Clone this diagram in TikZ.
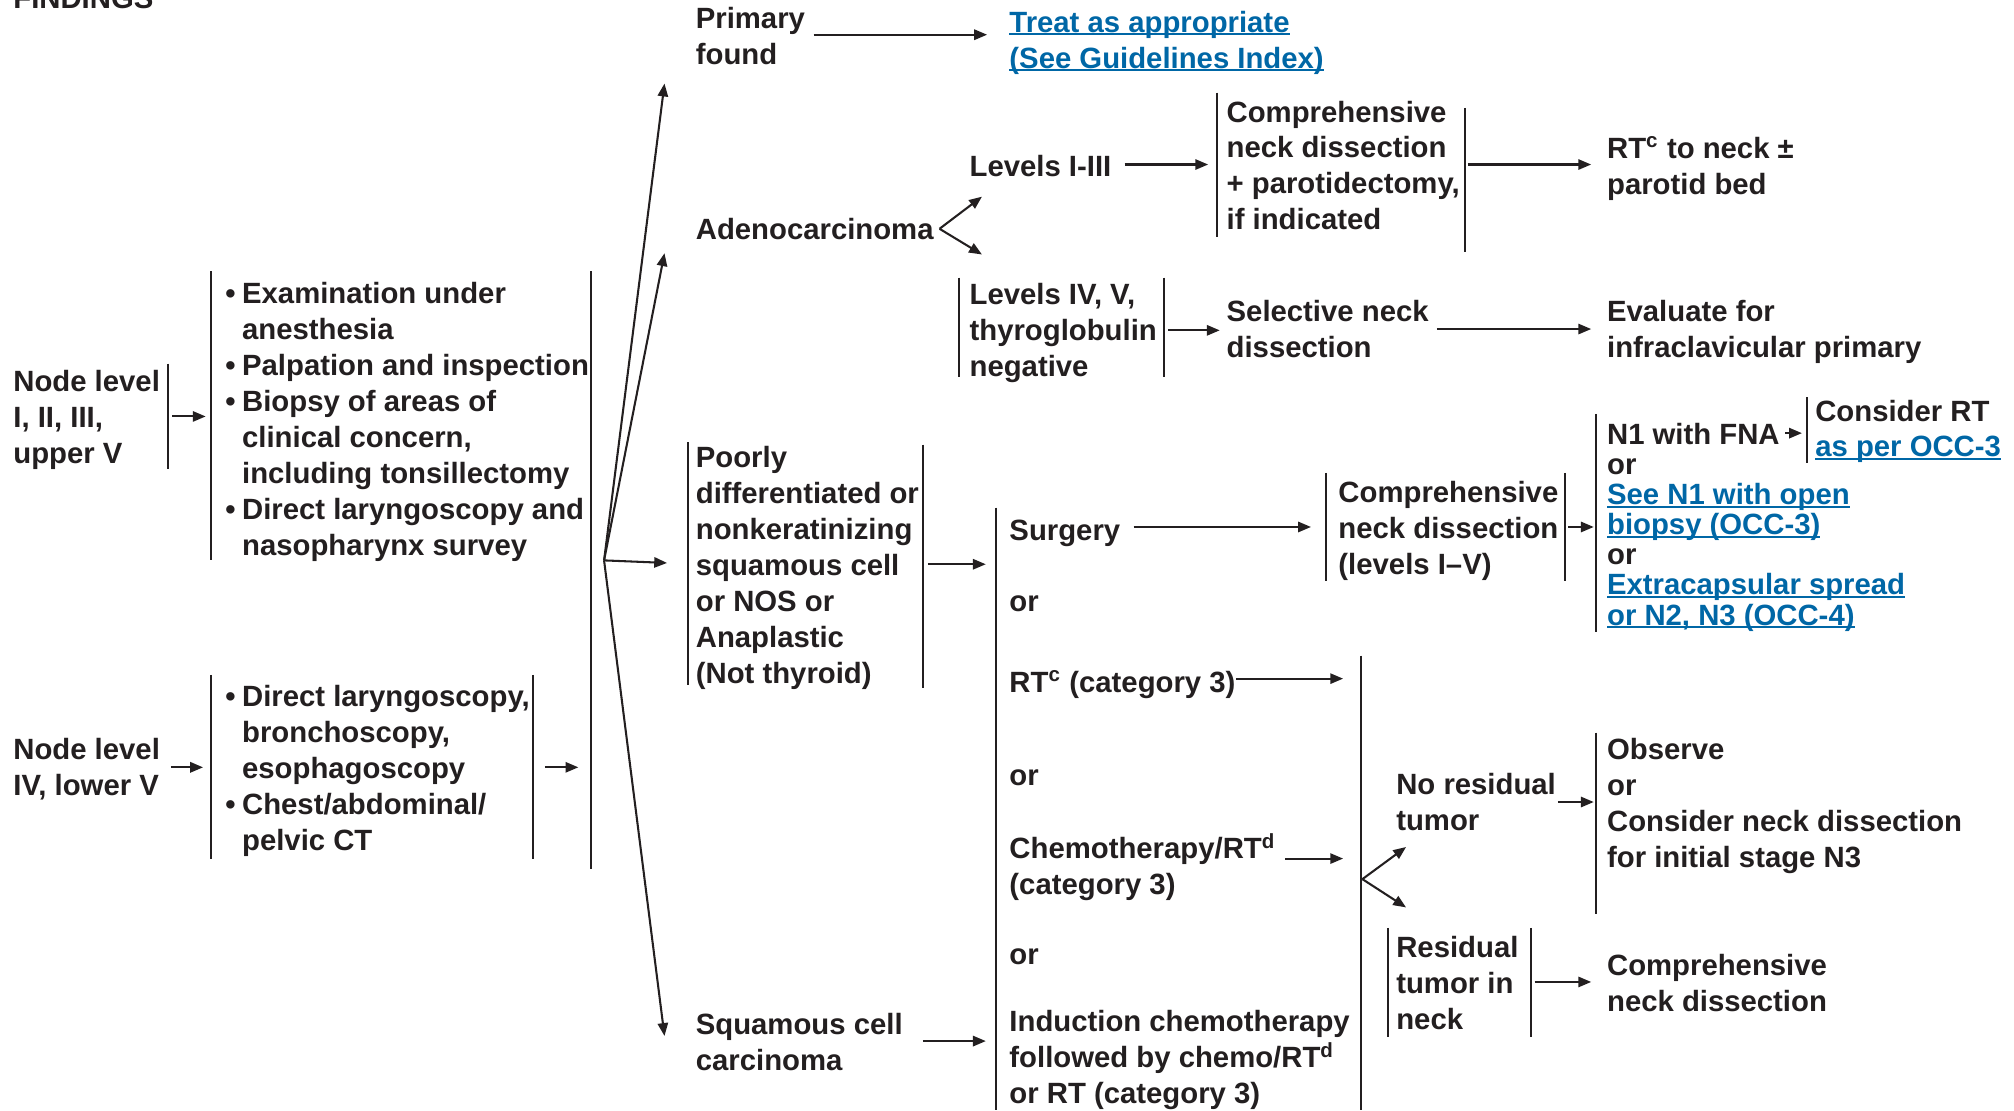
\documentclass[tikz,border=0pt]{standalone}
\usepackage{fontspec}
\setmainfont{Liberation Sans}
\usepackage{xcolor}
\usetikzlibrary{arrows.meta}
\definecolor{ink}{RGB}{35,31,32}
\definecolor{nccnblue}{RGB}{0,103,166}
\newsavebox{\lnkbox}
\newcommand{\lnk}[1]{{\color{nccnblue}\sbox{\lnkbox}{#1}\rlap{\rule[-1.2pt]{\wd\lnkbox}{0.7pt}}\usebox{\lnkbox}}}
\newcommand{\bul}{\makebox[6.5pt][l]{\textbullet}}
\newcommand{\bulind}{\hspace*{6.5pt}}

\begin{document}
\begin{tikzpicture}
  [
    x=0.5pt, y=-0.5pt,
    Txt/.style={anchor=north west, yshift=8pt, execute at begin node={\rule{0pt}{9pt}},
      align=left, inner sep=0pt, text=ink, font=\fontsize{11.4}{14}\selectfont\bfseries},
    Tight/.style={Txt, font=\fontsize{11.4}{11.7}\selectfont\bfseries},
    Bar/.style={draw=ink, line width=0.8pt},
    Arr/.style={draw=ink, line width=0.8pt, -{Triangle[length=5pt, width=4pt]}}
  ]
  \useasboundingbox[fill=white] (0,0) rectangle (1567,864);
  % Nodes
  \node[Txt] (findings) at(10, 4) {FINDINGS};
  \node[Txt] (nodeI) at(10, 304) {Node level\\I, II, III,\\upper V};
  \node[Txt] (exam) at(175, 235) {\bul Examination under\\\bulind anesthesia\\\bul Palpation and inspection\\\bul Biopsy of areas of\\\bulind clinical concern,\\\bulind including tonsillectomy\\\bul Direct laryngoscopy and\\\bulind nasopharynx survey};
  \node[Txt] (nodeIV) at(10, 590) {Node level\\IV, lower V};
  \node[Txt] (endo) at(175, 549) {\bul Direct laryngoscopy,\\\bulind bronchoscopy,\\\bulind esophagoscopy\\\bul Chest/abdominal/\\\bulind pelvic CT};
  \node[Txt] (prim) at(541, 21) {Primary\\found};
  \node[Txt] (treat) at(785, 24) {\lnk{Treat as appropriate}\\\lnk{(See Guidelines Index)}};
  \node[Txt] (adeno) at(541, 184) {Adenocarcinoma};
  \node[Txt] (levI) at(754, 135) {Levels I-III};
  \node[Txt] (cndA) at(954, 94) {Comprehensive\\neck dissection\\+ parotidectomy,\\if indicated};
  \node[Txt] (rtA) at(1250, 122) {RT\textsuperscript{c} to neck ±\\parotid bed};
  \node[Txt] (levIV) at(754, 236) {Levels IV, V,\\thyroglobulin\\negative};
  \node[Txt] (snd) at(954, 249) {Selective neck\\dissection};
  \node[Txt] (evalA) at(1250, 249) {Evaluate for\\infraclavicular primary};
  \node[Txt] (poor) at(541, 363) {Poorly\\differentiated or\\nonkeratinizing\\squamous cell\\or NOS or\\Anaplastic\\(Not thyroid)};
  \node[Txt] (squam) at(541, 804) {Squamous cell\\carcinoma};
  \node[Txt] (surg) at(785, 418) {Surgery};
  \node[Txt] (or1) at(785, 473) {or};
  \node[Txt] (rtc) at(785, 536) {RT\textsuperscript{c} (category 3)};
  \node[Txt] (or2) at(785, 609) {or};
  \node[Txt] (chemo) at(785, 664) {Chemotherapy/RT\textsuperscript{d}\\(category 3)};
  \node[Txt] (or3) at(785, 748) {or};
  \node[Txt] (induct) at(785, 802) {Induction chemotherapy\\followed by chemo/RT\textsuperscript{d}\\or RT (category 3)};
  \node[Txt] (cndB) at(1041, 390) {Comprehensive\\neck dissection\\(levels I–V)};
  \node[Tight] (nOpt) at(1250, 345) {N1 with FNA\\or\\\lnk{See N1 with open}\\\lnk{biopsy (OCC-3)}\\or\\\lnk{Extracapsular spread}\\\lnk{or N2, N3 (OCC-4)}};
  \node[Txt, font=\fontsize{11.4}{13.6}\selectfont\bfseries] (consRT) at(1412, 327) {Consider RT\\\lnk{as per OCC-3}};
  \node[Txt] (noRes) at(1086, 617) {No residual\\tumor};
  \node[Txt] (observe) at(1250, 590) {Observe\\or\\Consider neck dissection\\for initial stage N3};
  \node[Txt] (resid) at(1086, 744) {Residual\\tumor in\\neck};
  \node[Txt] (cndC) at(1250, 758) {Comprehensive\\neck dissection};
  % Bars
  \foreach \x/\a/\b in {131/283/365, 164/211/436, 460/211/676, 164/525/668, 415/525/668,
      947/72/184, 1140/84/196, 746/216/293, 906/216/293, 535/344/533, 718/346/535,
      775/395/864, 1032/368/452, 1218/368/452, 1242/322/492, 1406/309/360,
      1059/510/864, 1242/570/711, 1080/722/807, 1191/722/807}
    \draw[Bar] (\x,\a) -- (\x,\b);
  % Arrow ends
  \foreach \n/\x/\y in {nodeIo/134/324, examI/160/324, nodeIVo/133/597, endoI/158/597,
      endoO/424/597, collI/450/597, fan/470/436, primI/517/65, adenoI/517/197,
      poorI/519/438, squamI/517/806, primO/633/27, treatI/768/27, adenoO/731/178,
      levII/764/153, levIVI/764/198, levIO/875/128, cndAI/940/128, cndAO/1142/128,
      rtAI/1238/128, levIVO/909/257, sndI/949/257, sndO/1118/256, evalI/1238/256,
      poorO/722/439, trtI/767/439, squamO/718/810, trtJ/767/810, surgO/882/410,
      cndBI/1020/410, cndBO/1220/410, nOptI/1240/410, fnaO/1389/337, consI/1402/337,
      rtcO/962/528, respI/1045/528, chemoO/1000/668, respJ/1045/668, resp/1060/684,
      noResI/1094/659, residI/1094/706, noResO/1212/624, obsI/1240/624,
      residO/1194/764, cndCI/1238/764}
    \coordinate (\n) at (\x,\y);
  % Lines
  \foreach \a/\b in {nodeIo/examI, nodeIVo/endoI, endoO/collI, fan/primI, fan/adenoI,
      fan/poorI, fan/squamI, primO/treatI, adenoO/levII, adenoO/levIVI, levIO/cndAI,
      cndAO/rtAI, levIVO/sndI, sndO/evalI, poorO/trtI, squamO/trtJ, surgO/cndBI,
      cndBO/nOptI, fnaO/consI, rtcO/respI, chemoO/respJ, resp/noResI, resp/residI,
      noResO/obsI, residO/cndCI}
    \path[Arr] (\a) -- (\b);
\end{tikzpicture}
\end{document}
